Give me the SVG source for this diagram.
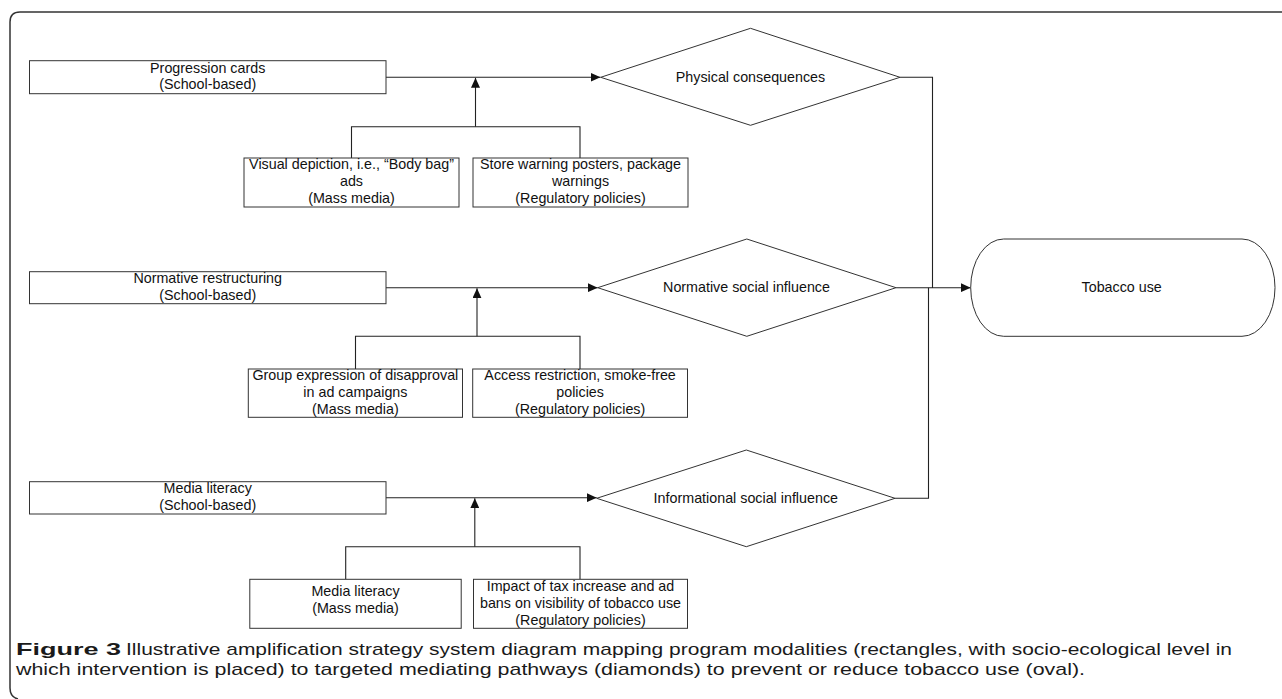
<svg xmlns="http://www.w3.org/2000/svg" width="1282" height="699" viewBox="0 0 1282 699">
<style>
.box{fill:#fff;stroke:#333;stroke-width:1}
.t{font-family:"Liberation Sans",Arial,sans-serif;font-size:14.3px;fill:#111;text-anchor:middle}
.c{fill:none;stroke:#222;stroke-width:1.1}
.cap{font-family:"Liberation Sans",Arial,sans-serif;font-size:17px;fill:#1a1a1a}
</style>
<defs>
<marker id="ah" markerUnits="userSpaceOnUse" markerWidth="10" markerHeight="9" refX="10" refY="4.5" orient="auto" viewBox="0 0 10 9">
<path d="M0,0 L10,4.5 L0,9 z" fill="#111"/>
</marker>
</defs>
<rect width="1282" height="699" fill="#fff"/>
<path d="M18,699 Q10,697 10,688 L10,22 Q10,12 20,12 L1282,12" fill="none" stroke="#333" stroke-width="1.5"/>

<g id="connectors">
<line class="c" x1="386" y1="77.3" x2="600.5" y2="77.3" marker-end="url(#ah)"/>
<line class="c" x1="475.5" y1="126.7" x2="475.5" y2="77.8" marker-end="url(#ah)"/>
<polyline class="c" points="351.5,158 351.5,126.7 580,126.7 580,158"/>
<polyline class="c" points="900,77.3 932.5,77.3 932.5,288"/>

<line class="c" x1="386" y1="287.7" x2="597.7" y2="287.7" marker-end="url(#ah)"/>
<line class="c" x1="477" y1="336.3" x2="477" y2="288.2" marker-end="url(#ah)"/>
<polyline class="c" points="355.5,369 355.5,336.3 580,336.3 580,369"/>
<line class="c" x1="896" y1="287.7" x2="970.7" y2="287.7" marker-end="url(#ah)"/>

<line class="c" x1="386" y1="497.7" x2="596.7" y2="497.7" marker-end="url(#ah)"/>
<line class="c" x1="474.8" y1="546.7" x2="474.8" y2="498.2" marker-end="url(#ah)"/>
<polyline class="c" points="345.7,579.3 345.7,546.7 580,546.7 580,579.3"/>
<polyline class="c" points="895,498.3 928.5,498.3 928.5,287.7"/>
</g>

<g id="prog-cards">
<rect class="box" x="29.5" y="60.7" width="356.5" height="33"/>
<text class="t" x="207.7" y="72.5">Progression cards</text>
<text class="t" x="207.7" y="89">(School-based)</text>
</g>
<g id="visual-depiction">
<rect class="box" x="244" y="158" width="215" height="49"/>
<text class="t" x="351.5" y="169.3">Visual depiction, i.e., “Body bag”</text>
<text class="t" x="351.5" y="186.3">ads</text>
<text class="t" x="351.5" y="203.3">(Mass media)</text>
</g>
<g id="store-warning">
<rect class="box" x="473" y="158" width="215" height="49"/>
<text class="t" x="580.5" y="169.3">Store warning posters, package</text>
<text class="t" x="580.5" y="186.3">warnings</text>
<text class="t" x="580.5" y="203.3">(Regulatory policies)</text>
</g>
<g id="physical-consequences">
<polygon class="box" points="600.7,77.3 750.5,28.3 900,77.3 750.5,125.3"/>
<text class="t" x="750.5" y="81.5">Physical consequences</text>
</g>

<g id="normative-restructuring">
<rect class="box" x="29.5" y="271.7" width="356.5" height="32"/>
<text class="t" x="207.7" y="283.3">Normative restructuring</text>
<text class="t" x="207.7" y="300">(School-based)</text>
</g>
<g id="group-expression">
<rect class="box" x="248.3" y="369" width="214.2" height="48.3"/>
<text class="t" x="355.4" y="380.3">Group expression of disapproval</text>
<text class="t" x="355.4" y="397.3">in ad campaigns</text>
<text class="t" x="355.4" y="414.3">(Mass media)</text>
</g>
<g id="access-restriction">
<rect class="box" x="472.7" y="369" width="214.8" height="48.3"/>
<text class="t" x="580.1" y="380.3">Access restriction, smoke-free</text>
<text class="t" x="580.1" y="397.3">policies</text>
<text class="t" x="580.1" y="414.3">(Regulatory policies)</text>
</g>
<g id="normative-social-influence">
<polygon class="box" points="597.7,287.7 746.8,239 896,287.7 746.8,336.3"/>
<text class="t" x="746.5" y="292.3">Normative social influence</text>
</g>

<g id="media-literacy-school">
<rect class="box" x="29.5" y="481.7" width="356.5" height="32.3"/>
<text class="t" x="207.7" y="493.3">Media literacy</text>
<text class="t" x="207.7" y="510">(School-based)</text>
</g>
<g id="media-literacy-mass">
<rect class="box" x="249.8" y="579.3" width="211.4" height="49"/>
<text class="t" x="355.5" y="596">Media literacy</text>
<text class="t" x="355.5" y="613">(Mass media)</text>
</g>
<g id="impact-tax">
<rect class="box" x="473.5" y="579.3" width="214" height="49"/>
<text class="t" x="580.5" y="590.6">Impact of tax increase and ad</text>
<text class="t" x="580.5" y="607.6">bans on visibility of tobacco use</text>
<text class="t" x="580.5" y="624.6">(Regulatory policies)</text>
</g>
<g id="informational-social-influence">
<polygon class="box" points="596.7,498.3 746.3,450 895,498.3 746.3,546.7"/>
<text class="t" x="745.8" y="502.5">Informational social influence</text>
</g>

<g id="tobacco-use">
<rect class="box" x="970.7" y="239" width="304.3" height="97.3" rx="33" ry="48.6"/>
<text class="t" x="1121.7" y="292">Tobacco use</text>
</g>

<g id="caption">
<text class="cap" x="16" y="655" font-weight="bold" textLength="105" lengthAdjust="spacingAndGlyphs">Figure 3</text>
<text class="cap" x="126" y="655" textLength="1106" lengthAdjust="spacingAndGlyphs">Illustrative amplification strategy system diagram mapping program modalities (rectangles, with socio-ecological level in</text>
<text class="cap" x="16" y="675" textLength="1069" lengthAdjust="spacingAndGlyphs">which intervention is placed) to targeted mediating pathways (diamonds) to prevent or reduce tobacco use (oval).</text>
</g>
</svg>
